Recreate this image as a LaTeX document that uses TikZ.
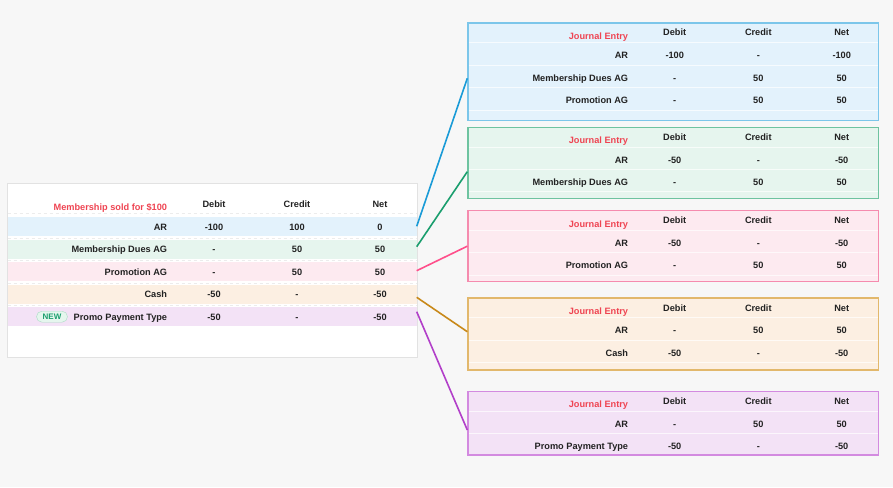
\documentclass[tikz,border=0pt]{standalone}
\usepackage{fontspec}
\setmainfont{Liberation Sans}
\usetikzlibrary{positioning}

\definecolor{bgGray}{HTML}{F7F7F7}
\definecolor{tableLine}{HTML}{E2E2E2}
\definecolor{inkDark}{HTML}{222222}
\definecolor{headRed}{HTML}{EF4452}
\definecolor{blueFill}{HTML}{E3F2FC}
\definecolor{greenFill}{HTML}{E6F5EE}
\definecolor{pinkFill}{HTML}{FDEAF0}
\definecolor{orangeFill}{HTML}{FCEFE2}
\definecolor{purpleFill}{HTML}{F3E2F6}
\definecolor{blueEdge}{HTML}{7CC6EA}
\definecolor{greenEdge}{HTML}{6EC3A0}
\definecolor{pinkEdge}{HTML}{F58BAE}
\definecolor{orangeEdge}{HTML}{E2B86C}
\definecolor{purpleEdge}{HTML}{D38AE0}
\definecolor{blueLink}{HTML}{1A9BD7}
\definecolor{greenLink}{HTML}{1A9E6E}
\definecolor{pinkLink}{HTML}{FF4F8B}
\definecolor{orangeLink}{HTML}{C8891A}
\definecolor{purpleLink}{HTML}{B23FC9}
\definecolor{newFill}{HTML}{E5F6EE}
\definecolor{newEdge}{HTML}{A9DCC4}
\definecolor{newText}{HTML}{1A9E6E}

\begin{document}
\begin{tikzpicture}[
    x=1pt, y=-1pt,
    cell/.style={font=\fontsize{9.2}{10}\selectfont\bfseries, text=inkDark, inner sep=0pt, text height=6.6pt, text depth=0pt},
    acct/.style={cell, anchor=east},
    head/.style={cell, anchor=east, text=headRed},
    row/.style={rectangle, inner sep=0pt, minimum width=409pt},
    entry/.style={rectangle, draw, line width=1.3pt, inner sep=0pt, minimum width=410.5pt},
    rule/.style={white, opacity=0.7, line width=0.5pt},
    sep/.style={white!85!gray, dashed, line width=0.4pt},
    newtag/.style={rectangle, rounded corners=5.5pt, draw=newEdge, fill=newFill, text=newText, font=\fontsize{8}{9}\selectfont\bfseries, inner sep=0pt, minimum width=31pt, minimum height=11pt},
    link/.style={line width=1.6pt}
]

\fill[bgGray] (0,0) rectangle (893,487);
\useasboundingbox (0,0) rectangle (893,487);

% Source table
\node[rectangle, draw=tableLine, fill=white, inner sep=0pt, minimum width=410pt, minimum height=174pt] (tab) at (212,269.7) {};
\node[row, fill=blueFill, minimum height=19.3pt] (rowAR) at (212,226.3) {};
\node[row, fill=greenFill, minimum height=18.7pt] (rowDues) at (212,249.3) {};
\node[row, fill=pinkFill, minimum height=19pt] (rowPromo) at (212,271.5) {};
\node[row, fill=orangeFill, minimum height=18.7pt] (rowCash) at (212,294.3) {};
\node[row, fill=purpleFill, minimum height=19pt] (rowPay) at (212,316.5) {};
\draw[sep] (7.5,213.3) -- (416.5,213.3);
\draw[sep] (7.5,238.2) -- (416.5,238.2);
\draw[sep] (7.5,260.4) -- (416.5,260.4);
\draw[sep] (7.5,283.3) -- (416.5,283.3);
\draw[sep] (7.5,305.4) -- (416.5,305.4);

\node[head] (srcTitle) at (167.3,206.7) {Membership sold for \$100};
\node[cell] (srcDebit) at (214,204.3) {Debit};
\node[cell] (srcCredit) at (297,204.3) {Credit};
\node[cell] (srcNet) at (380,204.3) {Net};

\node[acct] (srcAR) at (167.3,226.7) {AR};
\node[cell] at (214,226.7) {-100}; \node[cell] at (297,226.7) {100}; \node[cell] at (380,226.7) {0};
\node[acct] (srcDues) at (167.3,249.3) {Membership Dues AG};
\node[cell] at (214,249.3) {-}; \node[cell] at (297,249.3) {50}; \node[cell] at (380,249.3) {50};
\node[acct] (srcPromo) at (167.3,271.7) {Promotion AG};
\node[cell] at (214,271.7) {-}; \node[cell] at (297,271.7) {50}; \node[cell] at (380,271.7) {50};
\node[acct] (srcCash) at (167.3,294) {Cash};
\node[cell] at (214,294) {-50}; \node[cell] at (297,294) {-}; \node[cell] at (380,294) {-50};
\node[acct] (srcPay) at (167.3,316.7) {Promo Payment Type};
\node[cell] at (214,316.7) {-50}; \node[cell] at (297,316.7) {-}; \node[cell] at (380,316.7) {-50};
\node[newtag] (newTag) at (52,316.7) {NEW};

% Journal entries
\node[entry, draw=blueEdge, fill=blueFill, minimum height=97.5pt] (je1) at (673.2,71.7) {};
\node[entry, draw=greenEdge, fill=greenFill, minimum height=71.4pt] (je2) at (673.2,163) {};
\node[entry, draw=pinkEdge, fill=pinkFill, minimum height=71.1pt] (je3) at (673.2,246.2) {};
\node[entry, draw=orangeEdge, fill=orangeFill, minimum height=72.2pt] (je4) at (673.2,334) {};
\node[entry, draw=purpleEdge, fill=purpleFill, minimum height=63.8pt] (je5) at (673.2,423.2) {};
\foreach \y in {42.7,65,87.3,110} \draw[rule] (468.8,\y) -- (877.6,\y);
\foreach \y in {147.1,169.4,191.7} \draw[rule] (468.8,\y) -- (877.6,\y);
\foreach \y in {230.4,252.7,275} \draw[rule] (468.8,\y) -- (877.6,\y);
\foreach \y in {317.7,340,362.3} \draw[rule] (468.8,\y) -- (877.6,\y);
\foreach \y in {411.1,433.4} \draw[rule] (468.8,\y) -- (877.6,\y);

% entry 1
\node[head] at (628.3,36) {Journal Entry};
\node[cell] at (674.7,32.7) {Debit}; \node[cell] at (758.3,32.7) {Credit}; \node[cell] at (841.7,32.7) {Net};
\node[acct] at (628.3,55.7) {AR};
\node[cell] at (674.7,55.7) {-100}; \node[cell] at (758.3,55.7) {-}; \node[cell] at (841.7,55.7) {-100};
\node[acct] at (628.3,77.8) {Membership Dues AG};
\node[cell] at (674.7,77.8) {-}; \node[cell] at (758.3,77.8) {50}; \node[cell] at (841.7,77.8) {50};
\node[acct] at (628.3,100) {Promotion AG};
\node[cell] at (674.7,100) {-}; \node[cell] at (758.3,100) {50}; \node[cell] at (841.7,100) {50};

% entry 2
\node[head] at (628.3,140.4) {Journal Entry};
\node[cell] at (674.7,137.1) {Debit}; \node[cell] at (758.3,137.1) {Credit}; \node[cell] at (841.7,137.1) {Net};
\node[acct] at (628.3,159.8) {AR};
\node[cell] at (674.7,159.8) {-50}; \node[cell] at (758.3,159.8) {-}; \node[cell] at (841.7,159.8) {-50};
\node[acct] at (628.3,182) {Membership Dues AG};
\node[cell] at (674.7,182) {-}; \node[cell] at (758.3,182) {50}; \node[cell] at (841.7,182) {50};

% entry 3
\node[head] at (628.3,223.7) {Journal Entry};
\node[cell] at (674.7,220.4) {Debit}; \node[cell] at (758.3,220.4) {Credit}; \node[cell] at (841.7,220.4) {Net};
\node[acct] at (628.3,242.8) {AR};
\node[cell] at (674.7,242.8) {-50}; \node[cell] at (758.3,242.8) {-}; \node[cell] at (841.7,242.8) {-50};
\node[acct] at (628.3,265.3) {Promotion AG};
\node[cell] at (674.7,265.3) {-}; \node[cell] at (758.3,265.3) {50}; \node[cell] at (841.7,265.3) {50};

% entry 4
\node[head] at (628.3,311) {Journal Entry};
\node[cell] at (674.7,307.7) {Debit}; \node[cell] at (758.3,307.7) {Credit}; \node[cell] at (841.7,307.7) {Net};
\node[acct] at (628.3,330.5) {AR};
\node[cell] at (674.7,330.5) {-}; \node[cell] at (758.3,330.5) {50}; \node[cell] at (841.7,330.5) {50};
\node[acct] at (628.3,352.8) {Cash};
\node[cell] at (674.7,352.8) {-50}; \node[cell] at (758.3,352.8) {-}; \node[cell] at (841.7,352.8) {-50};

% entry 5
\node[head] at (628.3,404.4) {Journal Entry};
\node[cell] at (674.7,401.1) {Debit}; \node[cell] at (758.3,401.1) {Credit}; \node[cell] at (841.7,401.1) {Net};
\node[acct] at (628.3,423.7) {AR};
\node[cell] at (674.7,423.7) {-}; \node[cell] at (758.3,423.7) {50}; \node[cell] at (841.7,423.7) {50};
\node[acct] at (628.3,446.1) {Promo Payment Type};
\node[cell] at (674.7,446.1) {-50}; \node[cell] at (758.3,446.1) {-}; \node[cell] at (841.7,446.1) {-50};

% Links
\draw[link, blueLink] (rowAR.east) -- ([yshift=-6.6pt]je1.west);
\draw[link, greenLink] ([yshift=2.6pt]rowDues.east) -- ([yshift=-8.7pt]je2.west);
\draw[link, pinkLink] ([yshift=0.8pt]rowPromo.east) -- (je3.west);
\draw[link, orangeLink] ([yshift=-3pt]rowCash.east) -- ([yshift=2.3pt]je4.west);
\draw[link, purpleLink] ([yshift=4.8pt]rowPay.east) -- ([yshift=-6.8pt]je5.west);

\end{tikzpicture}
\end{document}
